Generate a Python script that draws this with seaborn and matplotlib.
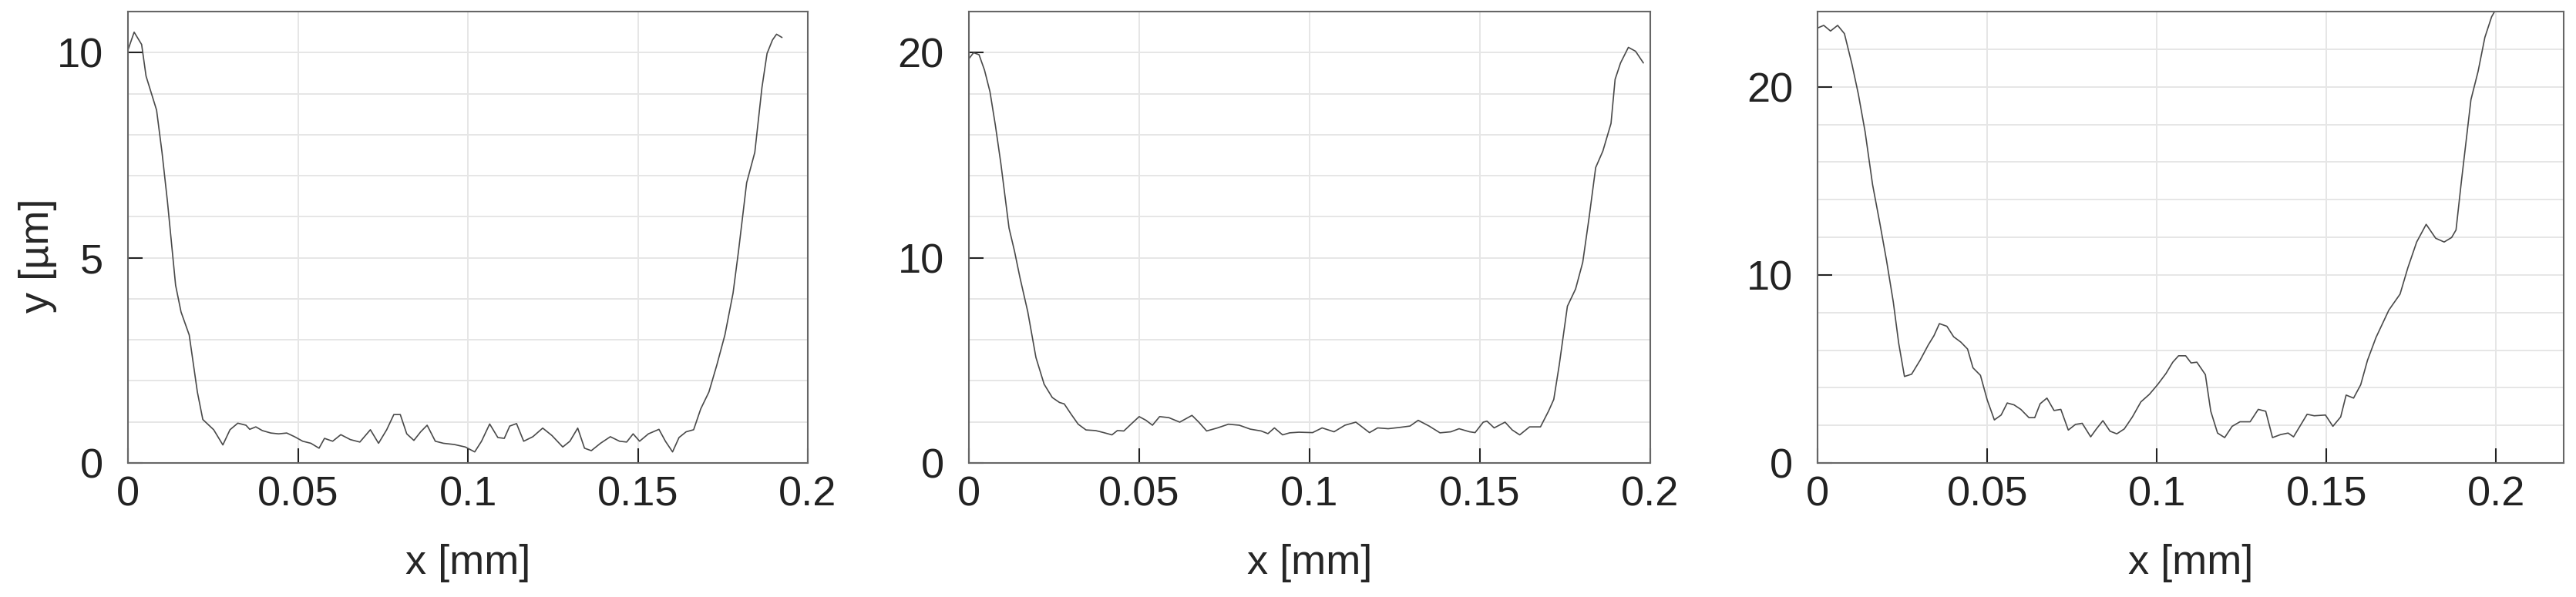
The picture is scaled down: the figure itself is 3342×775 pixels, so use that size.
import numpy as np
import pandas as pd
import matplotlib
matplotlib.use('Agg')
import matplotlib.pyplot as plt
from matplotlib.ticker import MultipleLocator
import seaborn as sns

# Profile 1 (x in mm, y in um)
x1 = [0, 0.0018, 0.004, 0.0053, 0.0084, 0.010, 0.0116, 0.014, 0.0156, 0.018, 0.0204, 0.022,
      0.0252, 0.0279, 0.030, 0.0323, 0.0347, 0.0358, 0.0376, 0.0395, 0.042, 0.0443, 0.0467,
      0.049, 0.0514, 0.0538, 0.0562, 0.0578, 0.0602, 0.0626, 0.0654, 0.0682, 0.0713, 0.0737,
      0.0761, 0.0782, 0.0801, 0.082, 0.0841, 0.0861, 0.088, 0.0904, 0.0928, 0.096, 0.0992,
      0.102, 0.104, 0.1064, 0.1088, 0.1107, 0.1123, 0.1143, 0.1164, 0.1191, 0.122, 0.1247,
      0.1279, 0.130, 0.1323, 0.1343, 0.1363, 0.139, 0.1419, 0.1446, 0.1467, 0.1486, 0.1505,
      0.1531, 0.1562, 0.1581, 0.1602, 0.1621, 0.1642, 0.1664, 0.1685, 0.1709, 0.1732, 0.1756,
      0.178, 0.1796, 0.182, 0.1844, 0.1865, 0.188, 0.1896, 0.1908, 0.1924]
y1 = [10.07, 10.5, 10.2, 9.43, 8.6, 7.57, 6.37, 4.33, 3.68, 3.12, 1.73, 1.06,
      0.81, 0.44, 0.81, 0.97, 0.92, 0.82, 0.88, 0.79, 0.73, 0.71, 0.73,
      0.64, 0.53, 0.48, 0.36, 0.60, 0.53, 0.69, 0.57, 0.51, 0.81, 0.48,
      0.81, 1.18, 1.18, 0.71, 0.55, 0.76, 0.92, 0.53, 0.48, 0.45, 0.39,
      0.27, 0.53, 0.95, 0.62, 0.60, 0.90, 0.96, 0.53, 0.64, 0.85, 0.67,
      0.39, 0.53, 0.85, 0.36, 0.30, 0.48, 0.64, 0.53, 0.51, 0.71, 0.53,
      0.71, 0.82, 0.53, 0.27, 0.62, 0.76, 0.81, 1.32, 1.73, 2.38, 3.12,
      4.14, 5.16, 6.83, 7.57, 9.15, 9.98, 10.31, 10.45, 10.37]

# Profile 2
x2 = [0, 0.0014, 0.003, 0.0046, 0.0062, 0.0078, 0.0094, 0.0118, 0.0134, 0.015, 0.0173,
      0.0197, 0.0221, 0.0245, 0.0266, 0.028, 0.0301, 0.0321, 0.0344, 0.0372, 0.0396, 0.042,
      0.0436, 0.0455, 0.0476, 0.050, 0.052, 0.0539, 0.056, 0.0587, 0.0619, 0.0655, 0.0675,
      0.0698, 0.073, 0.0762, 0.0794, 0.0826, 0.0858, 0.0878, 0.0897, 0.0921, 0.0942, 0.0969,
      0.1009, 0.1037, 0.1072, 0.1104, 0.1136, 0.1176, 0.120, 0.1231, 0.1263, 0.1295, 0.1319,
      0.1351, 0.1383, 0.1415, 0.1439, 0.147, 0.1486, 0.151, 0.1521, 0.1542, 0.1574, 0.1595,
      0.1617, 0.1646, 0.1678, 0.1702, 0.1717, 0.1733, 0.1757, 0.1781, 0.1802, 0.1821, 0.184,
      0.1861, 0.1885, 0.1897, 0.1913, 0.1936, 0.1957, 0.198]
y2 = [19.7, 20.0, 19.9, 19.15, 18.1, 16.45, 14.6, 11.45, 10.33, 9.04, 7.37,
      5.14, 3.84, 3.19, 2.95, 2.88, 2.36, 1.89, 1.61, 1.58, 1.48, 1.37,
      1.58, 1.56, 1.89, 2.26, 2.08, 1.84, 2.26, 2.21, 1.99, 2.32, 1.99,
      1.56, 1.71, 1.89, 1.84, 1.65, 1.56, 1.43, 1.71, 1.37, 1.47, 1.50,
      1.48, 1.71, 1.52, 1.84, 1.99, 1.48, 1.71, 1.67, 1.73, 1.80, 2.08,
      1.80, 1.47, 1.52, 1.67, 1.52, 1.48, 1.99, 2.04, 1.71, 1.99, 1.61,
      1.37, 1.76, 1.76, 2.54, 3.10, 4.77, 7.64, 8.48, 9.78, 12.0, 14.4,
      15.2, 16.55, 18.7, 19.5, 20.26, 20.07, 19.5]

# Profile 3
x3 = [0, 0.0018, 0.0038, 0.0059, 0.0079, 0.0101, 0.012, 0.014, 0.0162, 0.0183, 0.0203,
      0.0223, 0.0239, 0.0256, 0.0277, 0.0302, 0.0326, 0.0343, 0.0359, 0.0381, 0.0401, 0.0422,
      0.0442, 0.0458, 0.048, 0.050, 0.0521, 0.0541, 0.0559, 0.0579, 0.0599, 0.0623, 0.064,
      0.0656, 0.0676, 0.0697, 0.0717, 0.0739, 0.076, 0.078, 0.0805, 0.0821, 0.0841, 0.0862,
      0.0882, 0.0904, 0.0928, 0.0953, 0.0978, 0.1002, 0.1027, 0.1047, 0.1064, 0.1085, 0.1101,
      0.1118, 0.1143, 0.1159, 0.1179, 0.120, 0.1222, 0.1245, 0.1275, 0.1299, 0.1321, 0.1341,
      0.1365, 0.1387, 0.1403, 0.1423, 0.1443, 0.1464, 0.1497, 0.1519, 0.1542, 0.1558, 0.158,
      0.1601, 0.1621, 0.1646, 0.1684, 0.1717, 0.174, 0.1766, 0.1794, 0.1822, 0.1847, 0.1869,
      0.1882, 0.1898, 0.1926, 0.1947, 0.1967, 0.1987, 0.2005]
y3 = [23.13, 23.27, 22.97, 23.27, 22.83, 21.22, 19.62, 17.61, 14.8, 12.79, 10.78,
      8.57, 6.37, 4.60, 4.72, 5.46, 6.27, 6.77, 7.41, 7.27, 6.71, 6.43,
      6.06, 5.06, 4.66, 3.35, 2.29, 2.55, 3.19, 3.09, 2.85, 2.41, 2.41,
      3.15, 3.45, 2.79, 2.85, 1.75, 2.05, 2.11, 1.39, 1.79, 2.25, 1.69,
      1.55, 1.81, 2.45, 3.25, 3.65, 4.16, 4.76, 5.36, 5.70, 5.70, 5.32,
      5.36, 4.70, 2.75, 1.59, 1.35, 1.95, 2.19, 2.19, 2.85, 2.75, 1.35,
      1.51, 1.59, 1.39, 1.99, 2.59, 2.51, 2.55, 1.95, 2.45, 3.61, 3.45,
      4.16, 5.46, 6.67, 8.13, 8.98, 10.38, 11.75, 12.69, 11.95, 11.75, 11.99,
      12.39, 15.0, 19.32, 20.82, 22.63, 23.73, 24.3]

profiles = [(x1, y1), (x2, y2), (x3, y3)]
xlims = [0.2, 0.2, 0.22]
ylims = [11, 22, 24]
ymajor = [5, 10, 10]
yminor = [1, 2, 2]

sns.set_theme(style='white')
plt.rcParams['font.family'] = ['Liberation Sans', 'DejaVu Sans']

fig = plt.figure(figsize=(33.42, 7.75), dpi=100)
positions = [
    [0.0497, 0.2245, 0.2639, 0.756],
    [0.3761, 0.2245, 0.2645, 0.756],
    [0.7056, 0.2245, 0.2897, 0.756],
]

# tick label format: 0, 0.05, 0.1 ...
fmt = plt.FuncFormatter(lambda v, p: '%g' % round(v, 3))

for i, (xs, ys) in enumerate(profiles):
    ax = fig.add_axes(positions[i])
    df = pd.DataFrame({'x': xs, 'y': ys})
    sns.lineplot(data=df, x='x', y='y', ax=ax, color='#4a4a4a', linewidth=1.2,
                 estimator=None, sort=False)
    ax.set_xlim(0, xlims[i])
    ax.set_ylim(0, ylims[i])
    ax.xaxis.set_major_locator(MultipleLocator(0.05))
    ax.yaxis.set_major_locator(MultipleLocator(ymajor[i]))
    ax.yaxis.set_minor_locator(MultipleLocator(yminor[i]))
    ax.xaxis.set_major_formatter(fmt)
    ax.yaxis.set_major_formatter(fmt)
    ax.grid(True, which='major', axis='x', color='#e6e6e6', linewidth=1.4)
    ax.grid(True, which='both', axis='y', color='#e6e6e6', linewidth=1.4)
    ax.set_axisbelow(True)
    ax.tick_params(axis='both', which='major', direction='in', length=14, width=1.5,
                   colors='#222222', labelsize=39, bottom=True, left=True)
    ax.tick_params(axis='x', pad=12)
    ax.tick_params(axis='y', pad=23)
    ax.tick_params(axis='both', which='minor', length=0)
    for s in ax.spines.values():
        s.set_color('#666666')
        s.set_linewidth(1.5)
    ax.set_xlabel('x [mm]', fontsize=39)
    ax.xaxis.set_label_coords(0.5, -0.18)
    if i == 0:
        ax.set_ylabel('y [µm]', fontsize=39)
        ax.yaxis.set_label_coords(-0.104, 0.459)
    else:
        ax.set_ylabel('')

fig.savefig('out.png', dpi=100)
